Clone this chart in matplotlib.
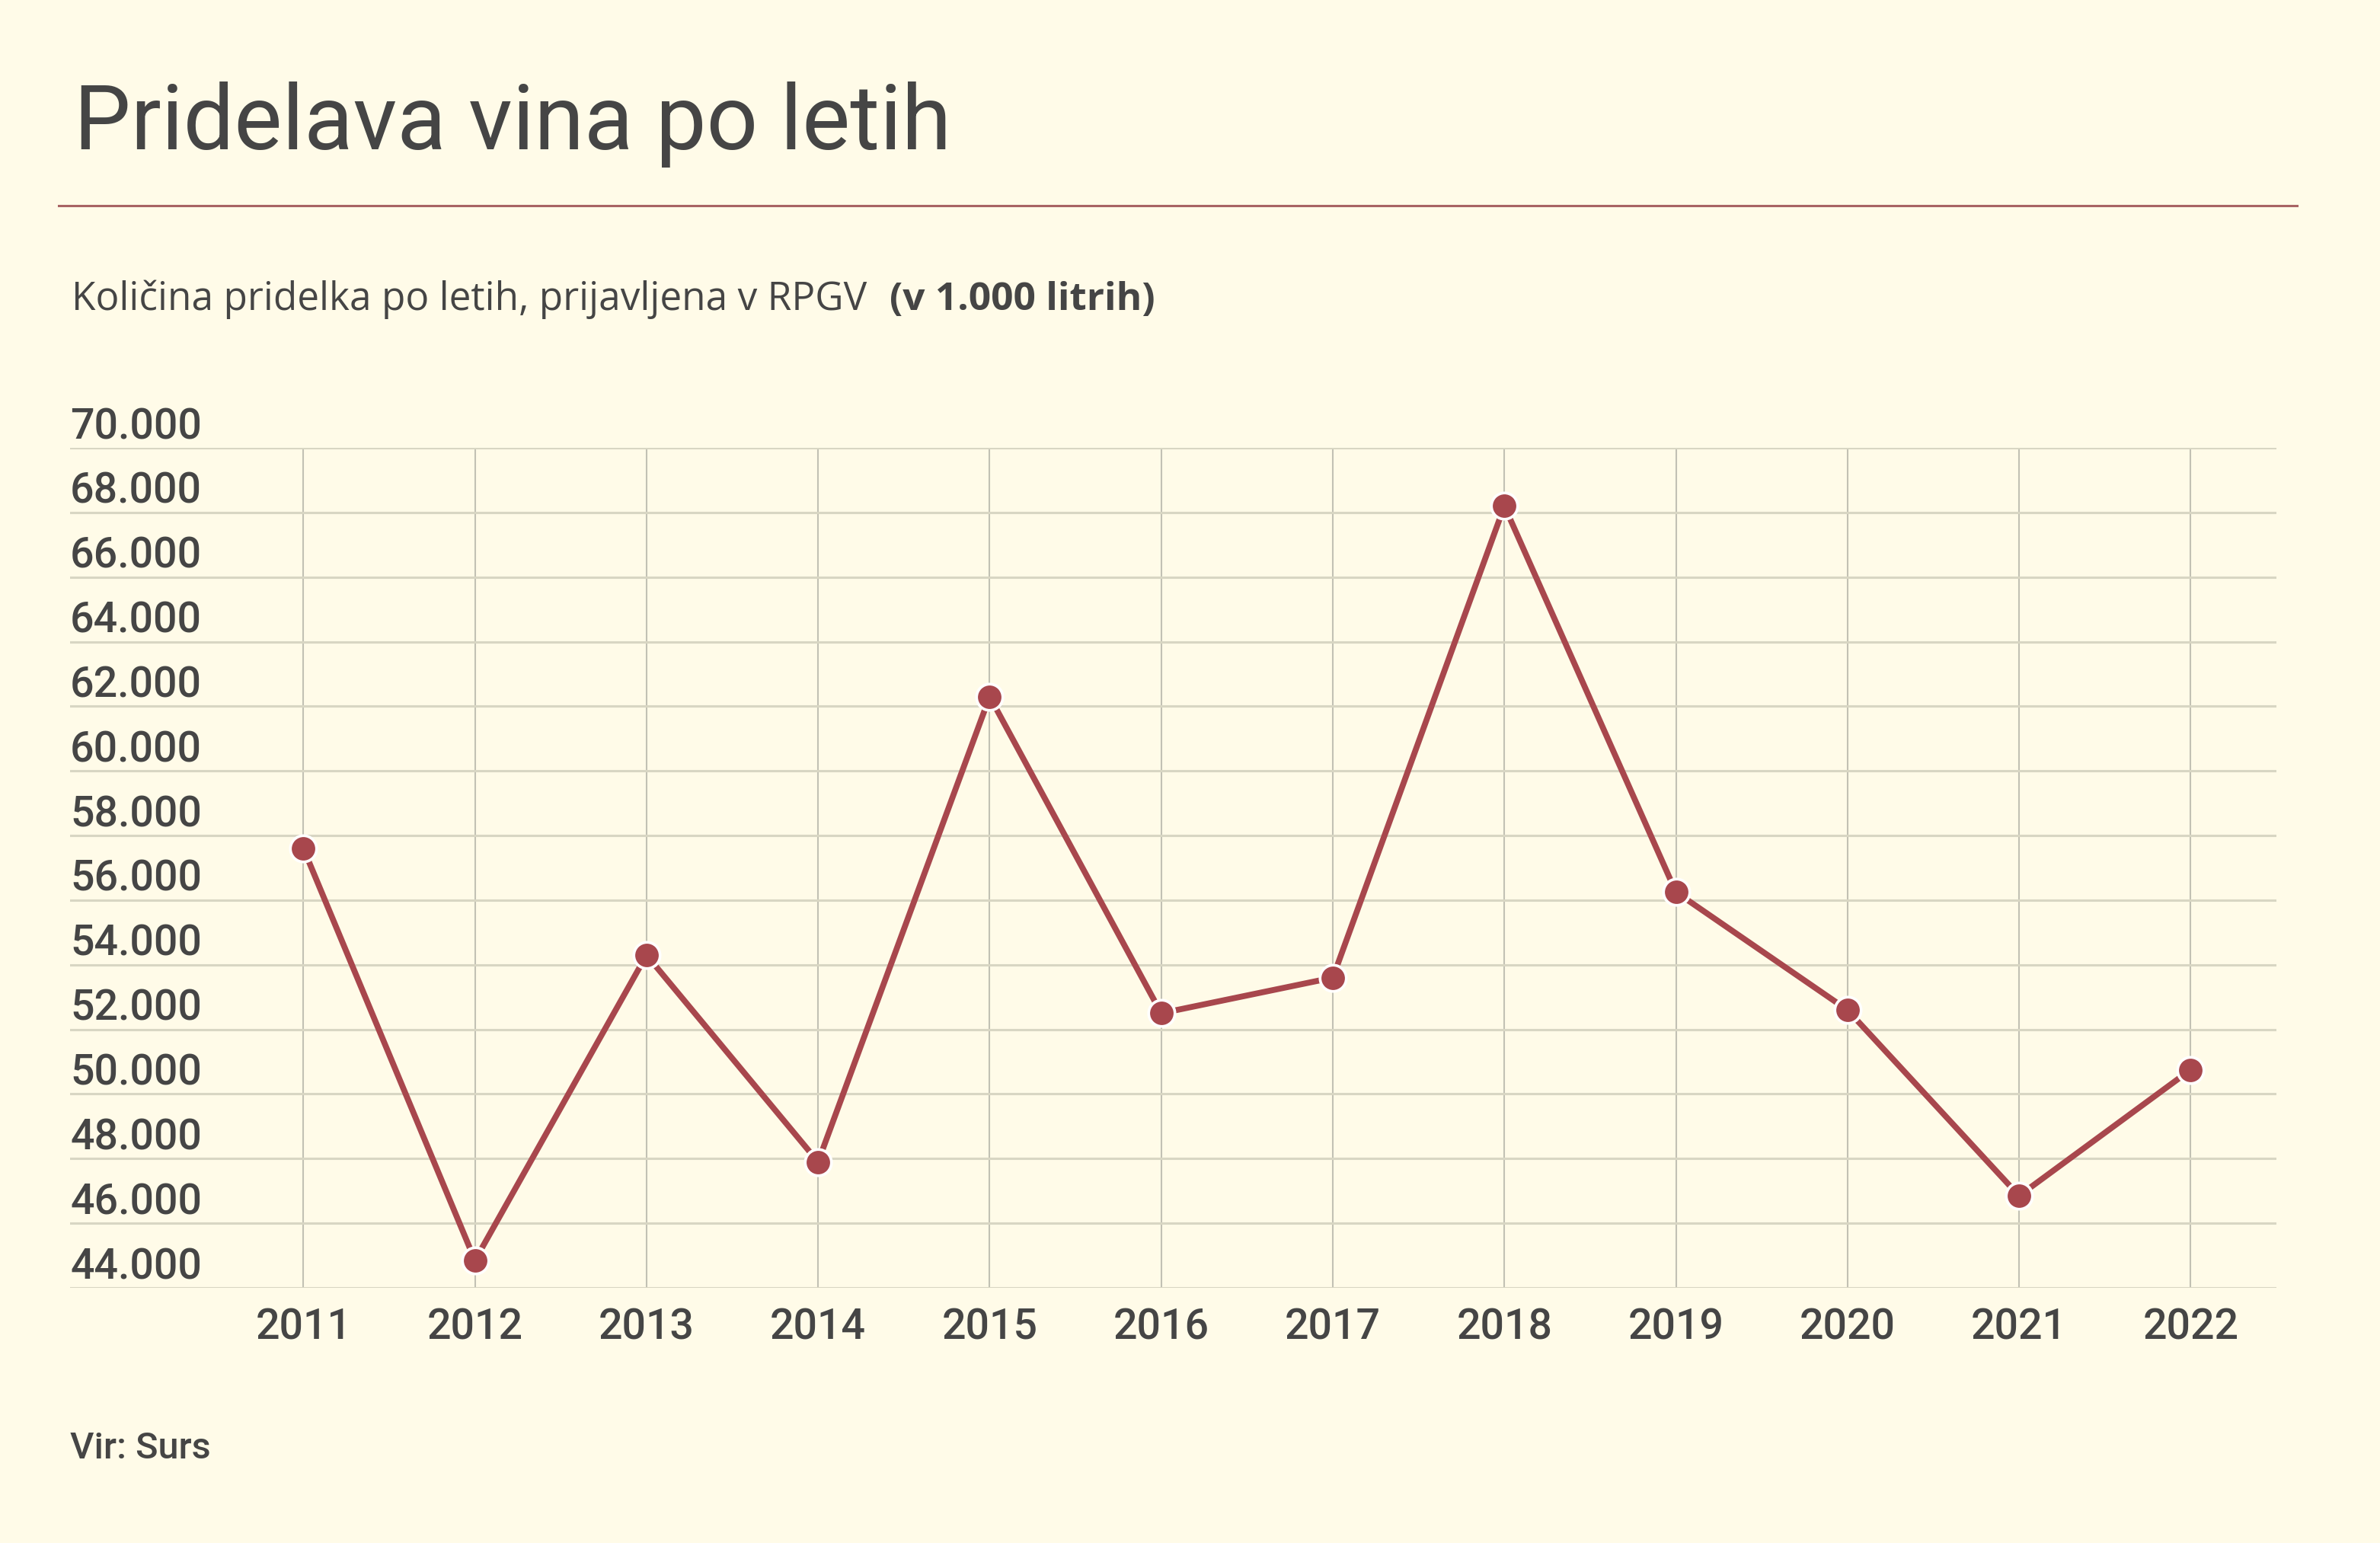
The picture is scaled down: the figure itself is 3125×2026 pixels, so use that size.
import numpy as np
from matplotlib import pyplot as plt
from matplotlib import transforms

years = [2011, 2012, 2013, 2014, 2015, 2016, 2017, 2018, 2019, 2020, 2021, 2022]
production = [57600, 44850, 54300, 47900, 62300, 52500, 53600, 68200, 56250, 52600, 46850, 50750]
y_ticks = list(range(44000, 70001, 2000))
y_tick_labels = [f"{v:,}".replace(",", ".") for v in y_ticks]

title = "Pridelava vina po letih"
subtitle = "Količina pridelka po letih, prijavljena v RPGV"
subtitle_unit = "(v 1.000 litrih)"
source = "Vir: Surs"

bg = "#fffbe8"
text_col = "#454545"
line_col = "#a8474d"

W, H = 3125, 2026
fig = plt.figure(figsize=(W / 200, H / 200), dpi=200, facecolor=bg)

# axes box measured in pixels from the reference
left, right, top, bottom = 92, 2989, 588, 1691
ax = fig.add_axes([left / W, 1 - bottom / H, (right - left) / W, (bottom - top) / H])
ax.set_facecolor(bg)

ax.plot(years, production, color=line_col, lw=2.8, marker="o", ms=12.4,
        mfc=line_col, mec="white", mew=1.3, zorder=3)

ax.set_xlim(2009.64, 2022.5)
ax.set_ylim(44000, 70000)
ax.set_yticks(y_ticks)
ax.set_xticks(years)
ax.set_yticklabels([])
ax.tick_params(axis="both", length=0)
ax.tick_params(axis="x", pad=9, labelsize=20, labelcolor=text_col)
for lab in ax.get_xticklabels():
    lab.set_fontfamily("Roboto")
    lab.set_fontweight("medium")

ax.grid(axis="y", color="#d8d6c3", lw=1.1, zorder=0)
ax.grid(axis="x", color="#c2c1b4", lw=0.75, zorder=0)
for s in ax.spines.values():
    s.set_visible(False)

# y labels sit above their gridlines, left aligned
off = transforms.offset_copy(ax.get_yaxis_transform(), fig=fig, x=0, y=4.3, units="points")
for v, t in zip(y_ticks, y_tick_labels):
    ax.text(0, v, t, transform=off, ha="left", va="baseline", fontsize=20,
            family="Roboto", fontweight="medium", color=text_col)

fig.text(97 / W, 1 - 196 / H, title, fontsize=42.7, family="Roboto", color=text_col,
         ha="left", va="baseline")
fig.add_artist(plt.Line2D([77 / W, 3016 / W], [1 - 270 / H, 1 - 270 / H],
                          color="#a86464", lw=1.1))
fig.text(94 / W, 1 - 407 / H, subtitle, fontsize=18.5, family="Open Sans", color=text_col,
         ha="left", va="baseline")
fig.text(1168 / W, 1 - 407 / H, subtitle_unit, fontsize=18.5, family="Open Sans",
         fontweight="bold", color=text_col, ha="left", va="baseline")
fig.text(92 / W, 1 - 1915 / H, source, fontsize=17.5, family="Roboto", fontweight="medium",
         color=text_col, ha="left", va="baseline")

plt.savefig("out.png", dpi=200, facecolor=bg)
